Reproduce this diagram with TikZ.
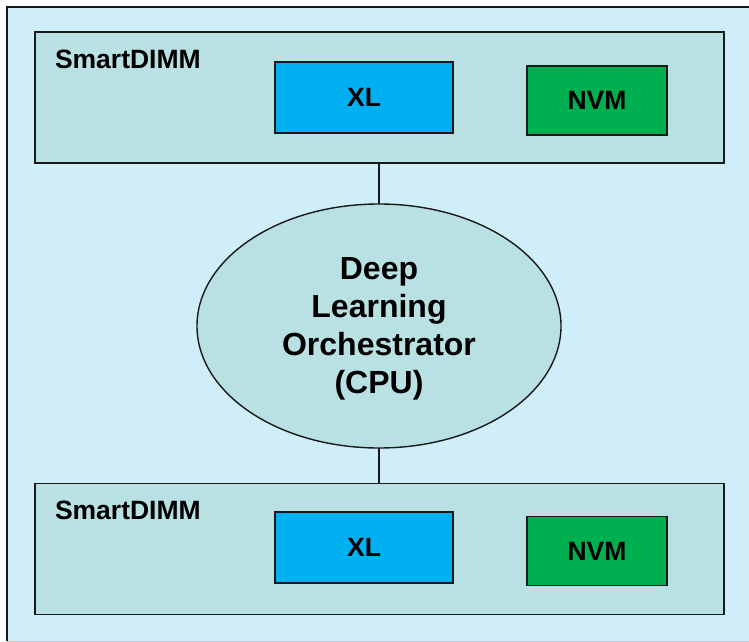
\documentclass[tikz,border=0pt]{standalone}
\usepackage{fontspec}
\setmainfont{Liberation Sans}
\usetikzlibrary{shapes.geometric}
\definecolor{bgblue}{RGB}{208,238,250}
\definecolor{dimmfill}{RGB}{185,224,227}
\definecolor{xlblue}{RGB}{0,176,240}
\definecolor{nvmgreen}{RGB}{0,176,80}
\definecolor{edge}{RGB}{25,25,25}
\tikzset{
  x=1pt, y=-1pt,
  every node/.style={font=\bfseries\fontsize{26.5}{30}\selectfont, inner sep=0pt, outer sep=0pt},
  dimm/.style={draw=edge, line width=1.4pt, fill=dimmfill, minimum width=689pt, minimum height=131pt},
  xlbox/.style={draw=edge, line width=1.4pt, fill=xlblue, minimum width=178pt, minimum height=71pt},
  nvmbox/.style={draw=edge, line width=1.4pt, fill=nvmgreen, minimum width=140pt, minimum height=69pt},
  cpu/.style={ellipse, draw=edge, line width=1.4pt, fill=dimmfill, minimum width=364pt, minimum height=244pt, align=center, font=\bfseries\fontsize{32}{38}\selectfont},
  tag/.style={anchor=base west},
  link/.style={draw=edge, line width=1.4pt}
}
\begin{document}
\begin{tikzpicture}
\useasboundingbox (0,0) rectangle (749,642);
% outer frame
\fill[bgblue] (7,7) rectangle (749,641);
\draw[edge, line width=1.6pt] (7,641) -- (7,7) -- (749,7);
\draw[gray!40, line width=1pt] (7,641) -- (749,641);

% upper SmartDIMM
\node[dimm] (dimmA) at (379.5,97.5) {};
\node[tag] (tagA) at (55,69) {SmartDIMM};
\node[xlbox] (xlA) at (364,97.5) {XL};
\node[nvmbox] (nvmA) at (597,100.5) {NVM};

% orchestrator
\node[cpu] (cpu) at (379,326) {};
\node[align=center, font=\bfseries\fontsize{32}{38}\selectfont] (cpulabel) at (379,329) {Deep\\Learning\\Orchestrator\\(CPU)};

% lower SmartDIMM
\node[dimm] (dimmB) at (379.5,549) {};
\node[tag] (tagB) at (55,519) {SmartDIMM};
\node[xlbox] (xlB) at (364,547.5) {XL};
\node[nvmbox] (nvmB) at (597,551) {NVM};

% links
\draw[link] (dimmA.south -| cpu.north) -- (cpu.north);
\draw[link] (cpu.south) -- (dimmB.north -| cpu.south);
\end{tikzpicture}
\end{document}
